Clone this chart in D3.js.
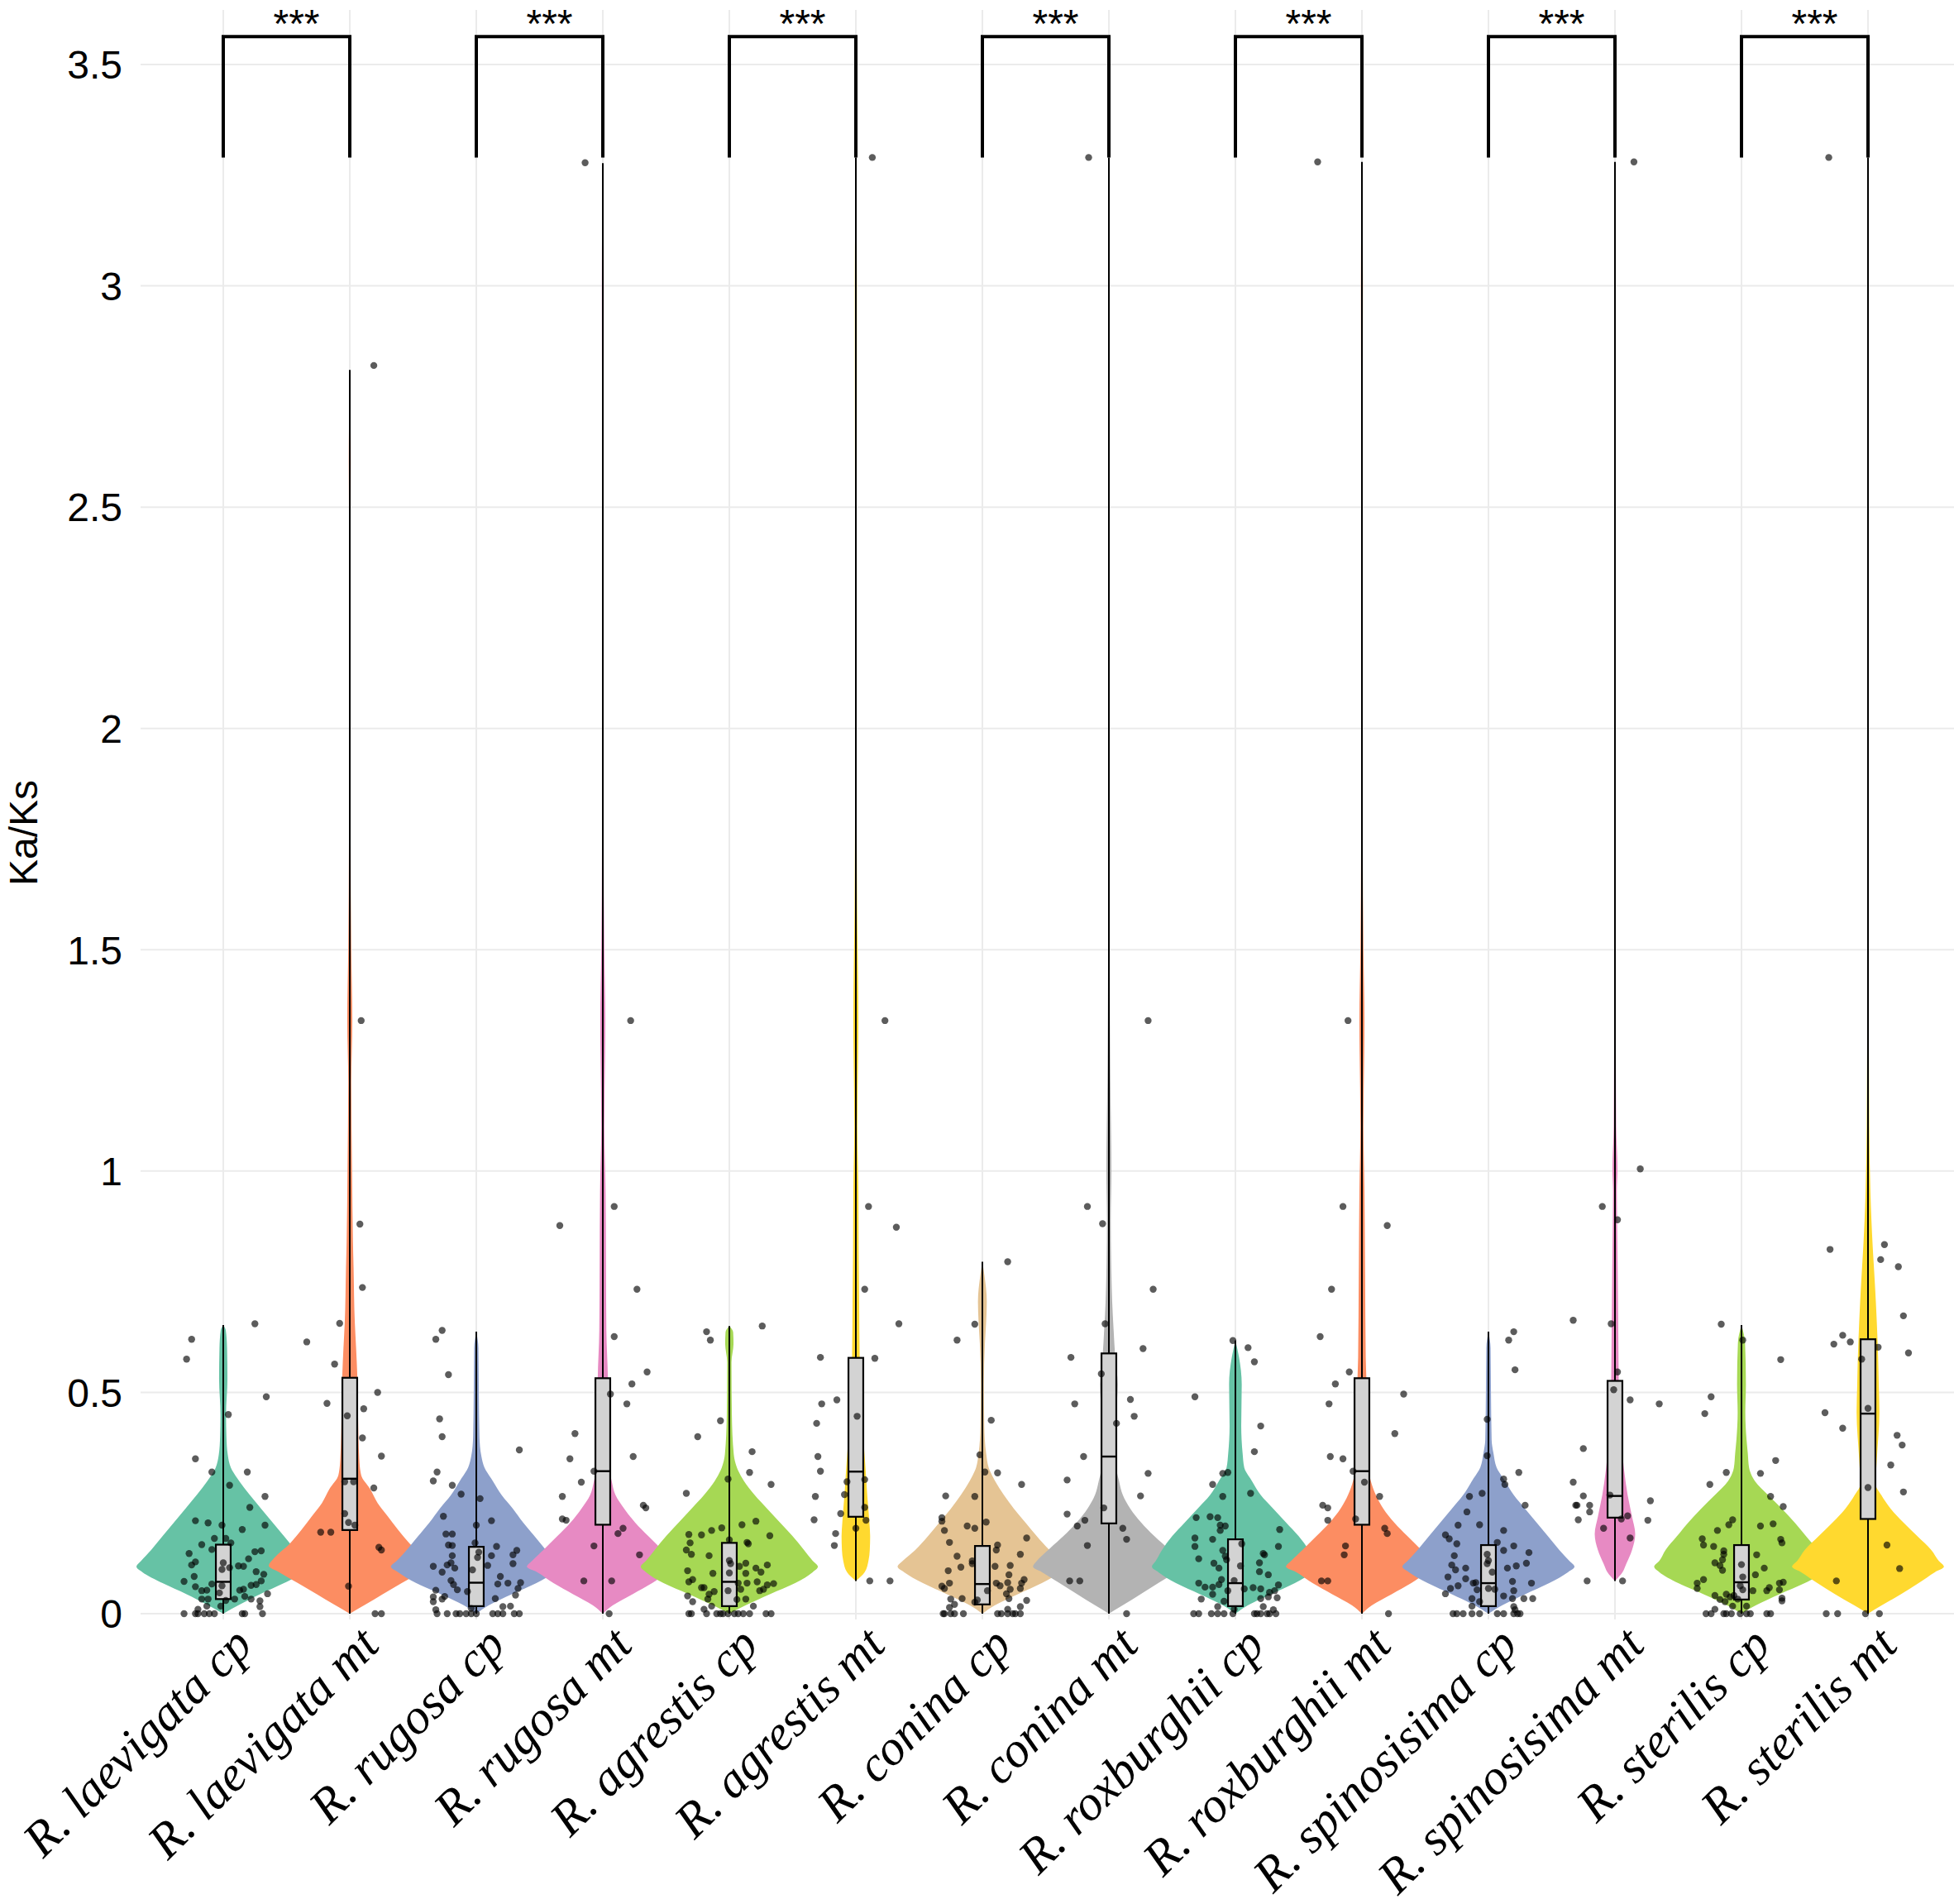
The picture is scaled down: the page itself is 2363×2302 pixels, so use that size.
<!DOCTYPE html>
<html>
<head>
<meta charset="utf-8">
<script src="https://cdn.jsdelivr.net/npm/d3@7"></script>
<style>
  body { margin: 0; background: #fff; }
</style>
</head>
<body>
<svg id="chart" width="2363" height="2302"></svg>
<script>
// categories
const groups = [
  "R. laevigata cp", "R. laevigata mt", "R. rugosa cp", "R. rugosa mt",
  "R. agrestis cp", "R. agrestis mt", "R. conina cp", "R. conina mt",
  "R. roxburghii cp", "R. roxburghii mt", "R. spinosisima cp", "R. spinosisima mt",
  "R. sterilis cp", "R. sterilis mt"
];
const palette = ["#66C2A5", "#FC8D62", "#8DA0CB", "#E78AC3", "#A6D854", "#FFD92F", "#E5C494",
  "#B3B3B3", "#66C2A5", "#FC8D62", "#8DA0CB", "#E78AC3", "#A6D854", "#FFD92F"];

const yTicks = [0, 0.5, 1, 1.5, 2, 2.5, 3, 3.5];

// box stats
const boxQ1  = [0.033, 0.189, 0.017, 0.201, 0.017, 0.219, 0.021, 0.204, 0.017, 0.201, 0.017, 0.217, 0.032, 0.214];
const boxMed = [0.072, 0.305, 0.070, 0.322, 0.072, 0.321, 0.067, 0.355, 0.069, 0.322, 0.069, 0.266, 0.071, 0.452];
const boxQ3  = [0.156, 0.533, 0.151, 0.532, 0.160, 0.578, 0.153, 0.588, 0.168, 0.532, 0.155, 0.526, 0.155, 0.620];
const lineLo = [0, 0, 0, 0, 0, 0.074, 0, 0, 0, 0, 0, 0.074, 0, 0];
const lineHi = [0.652, 2.81, 0.637, 3.277, 0.65, 3.29, 0.795, 3.29, 0.617, 3.28, 0.637, 3.28, 0.652, 3.29];

// significance brackets (cp vs mt)
const sigLabels = ["***", "***", "***", "***", "***", "***", "***"];
const sigTop = 3.563;
const sigTip = 3.29;

// violin outlines: [Ka/Ks, half width in category steps]
const vLaevigataCp = [[0,0],[0.019,0.12],[0.044,0.29],[0.069,0.48],[0.094,0.64],[0.106,0.686],[0.119,0.65],[0.144,0.57],[0.175,0.48],[0.206,0.39],[0.237,0.30],[0.268,0.21],[0.30,0.125],[0.33,0.06],[0.36,0.035],[0.40,0.025],[0.45,0.022],[0.53,0.033],[0.60,0.03],[0.64,0.02],[0.652,0]];
const vLaevigataMt = [[0,0],[0.02,0.12],[0.044,0.26],[0.069,0.41],[0.094,0.56],[0.108,0.64],[0.125,0.60],[0.158,0.475],[0.19,0.38],[0.22,0.30],[0.25,0.22],[0.282,0.16],[0.313,0.09],[0.35,0.075],[0.45,0.065],[0.533,0.06],[0.60,0.05],[0.656,0.04],[0.78,0.03],[0.84,0.025],[1.0,0.018],[1.2,0.012],[1.34,0.02],[1.5,0.012],[1.8,0.006],[2.3,0.004],[2.6,0.008],[2.81,0]];
const vRugosaCp = [[0,0],[0.019,0.10],[0.044,0.28],[0.069,0.475],[0.094,0.62],[0.106,0.675],[0.119,0.63],[0.144,0.55],[0.175,0.46],[0.206,0.37],[0.237,0.29],[0.268,0.20],[0.30,0.13],[0.33,0.065],[0.356,0.04],[0.40,0.025],[0.50,0.02],[0.60,0.017],[0.637,0]];
const vRugosaMt = [[0,0],[0.019,0.08],[0.044,0.235],[0.069,0.39],[0.094,0.52],[0.106,0.60],[0.119,0.56],[0.144,0.47],[0.175,0.36],[0.206,0.255],[0.237,0.17],[0.268,0.10],[0.30,0.07],[0.33,0.05],[0.45,0.042],[0.532,0.04],[0.64,0.028],[0.954,0.022],[1.1,0.012],[1.34,0.02],[1.5,0.012],[1.8,0.006],[2.5,0.004],[3.0,0.008],[3.277,0]];
const vAgrestisCp = [[0,0],[0.019,0.13],[0.044,0.32],[0.069,0.52],[0.094,0.66],[0.106,0.70],[0.119,0.66],[0.144,0.59],[0.175,0.50],[0.206,0.40],[0.237,0.30],[0.268,0.20],[0.30,0.115],[0.33,0.06],[0.36,0.035],[0.45,0.02],[0.568,0.017],[0.61,0.033],[0.636,0.03],[0.65,0]];
const vAgrestisMt = [[0.074,0],[0.094,0.07],[0.12,0.10],[0.144,0.11],[0.175,0.113],[0.206,0.107],[0.268,0.09],[0.33,0.076],[0.393,0.06],[0.455,0.046],[0.518,0.037],[0.58,0.03],[0.705,0.026],[0.83,0.022],[0.954,0.02],[1.1,0.012],[1.34,0.02],[1.6,0.01],[2.0,0.005],[3.0,0.008],[3.29,0]];
const vConinaCp = [[0,0],[0.019,0.10],[0.044,0.28],[0.069,0.47],[0.094,0.62],[0.106,0.67],[0.119,0.63],[0.144,0.53],[0.175,0.43],[0.206,0.34],[0.237,0.25],[0.268,0.17],[0.30,0.10],[0.33,0.05],[0.362,0.03],[0.424,0.015],[0.518,0.012],[0.61,0.02],[0.66,0.03],[0.705,0.035],[0.767,0.015],[0.795,0]];
const vConinaMt = [[0,0],[0.019,0.11],[0.044,0.25],[0.069,0.39],[0.094,0.53],[0.106,0.60],[0.119,0.57],[0.144,0.48],[0.175,0.36],[0.206,0.255],[0.237,0.17],[0.268,0.11],[0.30,0.08],[0.33,0.06],[0.45,0.06],[0.518,0.07],[0.58,0.05],[0.643,0.037],[0.705,0.026],[0.767,0.02],[0.89,0.015],[1.0,0.02],[1.2,0.012],[1.5,0.006],[2.0,0.003],[3.0,0.006],[3.29,0]];
const vRoxburghiiCp = [[0,0],[0.019,0.10],[0.044,0.28],[0.069,0.47],[0.094,0.61],[0.106,0.66],[0.119,0.63],[0.144,0.58],[0.175,0.50],[0.206,0.40],[0.237,0.30],[0.268,0.20],[0.30,0.13],[0.33,0.07],[0.362,0.057],[0.424,0.046],[0.518,0.05],[0.58,0.028],[0.617,0]];
const vRoxburghiiMt = [[0,0],[0.019,0.08],[0.044,0.235],[0.069,0.39],[0.094,0.52],[0.106,0.60],[0.119,0.56],[0.144,0.47],[0.175,0.36],[0.206,0.255],[0.237,0.17],[0.268,0.11],[0.30,0.07],[0.33,0.05],[0.45,0.04],[0.532,0.035],[0.58,0.03],[0.767,0.025],[0.954,0.02],[1.1,0.012],[1.34,0.02],[1.5,0.012],[1.8,0.006],[2.5,0.004],[3.0,0.008],[3.28,0]];
const vSpinosisimaCp = [[0,0],[0.019,0.11],[0.044,0.29],[0.069,0.48],[0.094,0.63],[0.106,0.68],[0.119,0.64],[0.144,0.56],[0.175,0.47],[0.206,0.38],[0.237,0.29],[0.268,0.20],[0.30,0.13],[0.33,0.065],[0.362,0.04],[0.393,0.025],[0.50,0.02],[0.60,0.017],[0.637,0]];
const vSpinosisimaMt = [[0.074,0],[0.094,0.06],[0.113,0.09],[0.144,0.135],[0.18,0.16],[0.219,0.135],[0.268,0.10],[0.33,0.07],[0.393,0.048],[0.455,0.033],[0.518,0.03],[0.642,0.026],[0.767,0.022],[0.89,0.017],[0.954,0.015],[1.005,0.02],[1.1,0.01],[1.5,0.005],[2.0,0.003],[3.0,0.006],[3.28,0]];
const vSterilisCp = [[0,0],[0.019,0.115],[0.044,0.30],[0.069,0.50],[0.094,0.65],[0.106,0.69],[0.119,0.65],[0.144,0.60],[0.175,0.51],[0.206,0.42],[0.237,0.32],[0.268,0.21],[0.30,0.105],[0.33,0.06],[0.362,0.05],[0.393,0.04],[0.455,0.03],[0.518,0.035],[0.612,0.028],[0.652,0]];
const vSterilisMt = [[0,0],[0.019,0.11],[0.044,0.26],[0.069,0.40],[0.094,0.53],[0.106,0.60],[0.119,0.56],[0.144,0.50],[0.175,0.39],[0.206,0.28],[0.237,0.18],[0.268,0.105],[0.293,0.06],[0.35,0.07],[0.455,0.09],[0.518,0.085],[0.58,0.08],[0.642,0.072],[0.705,0.062],[0.767,0.05],[0.83,0.037],[0.89,0.027],[0.954,0.019],[1.1,0.01],[1.5,0.005],[2.0,0.003],[3.0,0.006],[3.29,0]];

// jittered points: [Ka/Ks, jitter in category steps]
const pLaevigataCp = [[0.62,-0.25],[0.575,-0.29],[0.655,0.25],[0.49,0.34],[0.45,0.04],[0.35,-0.22],[0.32,-0.09],[0.32,0.19],[0.29,0.05],[0.265,0.33],[0.24,0.21],[0.21,-0.22],[0.205,-0.12],[0.20,-0.01],[0.20,0.33],[0.19,0.15],[0.17,-0.07],[0.17,0.02],[0.16,0.06],[0.156,-0.17],[0.145,-0.09],[0.142,0.30],[0.14,0.25],[0.136,-0.27],[0.124,0.20],[0.117,-0.22],[0.11,-0.25],[0.115,0.00],[0.104,0.05],[0.10,-0.01],[0.108,0.12],[0.107,0.16],[0.095,0.26],[0.089,0.32],[0.084,-0.23],[0.073,-0.31],[0.067,-0.09],[0.063,-0.01],[0.061,-0.22],[0.064,0.22],[0.066,0.26],[0.074,0.30],[0.052,-0.17],[0.053,-0.13],[0.053,0.13],[0.055,0.16],[0.045,0.35],[0.047,-0.03],[0.033,-0.17],[0.033,-0.12],[0.03,0.02],[0.033,0.09],[0.039,0.17],[0.033,0.22],[0.029,0.29],[0.016,0.29],[0.017,-0.02],[0.01,-0.20],[0.017,-0.13],[0,-0.31],[0,-0.22],[0,-0.20],[0,-0.15],[0,-0.11],[0,-0.07],[0,0.15],[0,0.17],[0,0.31]];
const pLaevigataMt = [[2.82,0.19],[1.34,0.09],[0.88,0.08],[0.737,0.10],[0.656,-0.08],[0.614,-0.34],[0.564,-0.12],[0.50,0.22],[0.475,-0.18],[0.463,0.11],[0.447,-0.02],[0.397,0.10],[0.356,0.25],[0.284,0.19],[0.298,0.03],[0.298,-0.04],[0.226,-0.04],[0.206,-0.01],[0.20,0.04],[0.184,-0.23],[0.184,-0.15],[0.15,0.23],[0.144,0.25],[0.062,-0.01],[0,0.20],[0,0.25]];
const pRugosaCp = [[0.64,-0.27],[0.62,-0.32],[0.54,-0.22],[0.44,-0.29],[0.40,-0.27],[0.37,0.34],[0.32,-0.31],[0.30,-0.34],[0.29,-0.19],[0.27,-0.12],[0.26,0.03],[0.22,-0.26],[0.20,0.00],[0.21,0.12],[0.18,-0.24],[0.18,-0.19],[0.16,-0.01],[0.155,-0.22],[0.154,-0.19],[0.152,0.16],[0.143,0.32],[0.133,0.29],[0.131,-0.19],[0.131,0.12],[0.139,0.02],[0.127,0.01],[0.107,-0.34],[0.11,-0.23],[0.115,-0.20],[0.103,-0.17],[0.109,0.09],[0.113,0.29],[0.094,-0.27],[0.099,-0.03],[0.084,0.19],[0.075,-0.20],[0.066,-0.18],[0.054,-0.15],[0.05,-0.07],[0.067,0.17],[0.069,0.25],[0.07,0.35],[0.057,0.33],[0.042,0.31],[0.053,-0.32],[0.038,-0.34],[0.039,-0.25],[0.033,-0.27],[0.034,0.15],[0.027,-0.34],[0.009,-0.32],[0.016,0.21],[0.017,0.27],[0.012,-0.04],[0,-0.31],[0,-0.23],[0,-0.16],[0,-0.13],[0,-0.08],[0,-0.04],[0,0.00],[0,0.13],[0,0.17],[0,0.21],[0,0.30],[0,0.34]];
const pRugosaMt = [[3.278,-0.14],[1.34,0.22],[0.92,0.09],[0.877,-0.34],[0.733,0.27],[0.626,0.09],[0.546,0.35],[0.519,0.23],[0.496,0.06],[0.474,0.19],[0.407,-0.22],[0.355,0.24],[0.35,-0.26],[0.322,-0.07],[0.297,-0.17],[0.265,-0.32],[0.245,0.32],[0.239,0.34],[0.214,-0.32],[0.211,-0.29],[0.193,0.16],[0.181,0.12],[0.153,-0.07],[0.133,0.29],[0.074,-0.15],[0.074,0.07],[0,0.05]];
const pAgrestisCp = [[0.637,-0.18],[0.618,-0.15],[0.65,0.26],[0.436,-0.07],[0.40,-0.25],[0.366,0.18],[0.319,0.16],[0.292,0.33],[0.272,-0.34],[0.304,-0.01],[0.209,0.21],[0.201,0.10],[0.194,-0.06],[0.188,-0.14],[0.178,-0.22],[0.179,-0.32],[0.176,0.32],[0.167,0.00],[0.16,-0.31],[0.161,0.14],[0.158,0.15],[0.144,-0.34],[0.134,-0.30],[0.131,-0.16],[0.12,0.00],[0.113,0.01],[0.114,0.13],[0.107,0.08],[0.103,0.21],[0.11,0.30],[0.094,0.25],[0.091,0.13],[0.097,-0.33],[0.091,-0.13],[0.092,0.00],[0.072,-0.32],[0.077,-0.29],[0.069,0.07],[0.069,0.14],[0.072,0.22],[0.065,0.30],[0.068,0.35],[0.059,-0.22],[0.059,-0.20],[0.05,-0.12],[0.055,0.09],[0.052,0.24],[0.055,0.27],[0.052,-0.01],[0.04,-0.33],[0.044,-0.16],[0.033,-0.17],[0.032,0.06],[0.033,0.13],[0.027,-0.29],[0.01,-0.20],[0.017,-0.14],[0.017,0.19],[0,-0.32],[0,-0.30],[0,-0.18],[0,-0.10],[0,-0.07],[0,-0.05],[0,-0.01],[0,0.04],[0,0.07],[0,0.11],[0,0.16],[0,0.29],[0,0.33]];
const pAgrestisMt = [[3.29,0.13],[1.34,0.23],[0.92,0.10],[0.873,0.32],[0.733,0.07],[0.655,0.34],[0.579,-0.28],[0.577,0.15],[0.483,-0.15],[0.474,-0.27],[0.446,0.01],[0.43,-0.31],[0.355,-0.30],[0.322,-0.28],[0.298,-0.07],[0.303,0.07],[0.265,-0.32],[0.269,-0.09],[0.24,0.07],[0.226,-0.12],[0.211,0.08],[0.212,-0.33],[0.193,0.00],[0.181,-0.16],[0.154,-0.17],[0.074,0.11],[0.074,0.27]];
const pConinaCp = [[0.795,0.20],[0.654,-0.06],[0.618,-0.20],[0.437,0.07],[0.359,-0.02],[0.32,0.02],[0.318,0.12],[0.292,0.31],[0.266,-0.29],[0.265,-0.06],[0.217,-0.32],[0.209,-0.32],[0.207,0.03],[0.188,-0.30],[0.198,-0.12],[0.193,-0.06],[0.171,0.35],[0.161,-0.26],[0.155,0.12],[0.144,0.11],[0.134,0.30],[0.13,-0.20],[0.119,-0.08],[0.113,-0.08],[0.105,-0.17],[0.107,0.10],[0.109,0.22],[0.097,-0.27],[0.088,0.21],[0.077,0.33],[0.069,0.31],[0.069,0.11],[0.07,0.20],[0.063,0.14],[0.069,-0.26],[0.057,-0.30],[0.062,-0.32],[0.055,0.22],[0.057,0.30],[0.052,0.04],[0.045,0.19],[0.034,-0.16],[0.033,-0.25],[0.034,0.21],[0.03,0.35],[0.021,-0.22],[0.014,-0.26],[0.026,-0.06],[0.031,-0.04],[0.016,0.30],[0.01,0.20],[0,-0.31],[0,-0.30],[0,-0.25],[0,-0.22],[0,-0.15],[0,0.12],[0,0.15],[0,0.20],[0,0.24],[0,0.26],[0,0.30]];
const pConinaMt = [[3.29,-0.16],[1.34,0.31],[0.92,-0.17],[0.881,-0.05],[0.733,0.35],[0.655,-0.03],[0.599,0.27],[0.579,-0.30],[0.542,-0.06],[0.484,0.17],[0.474,-0.27],[0.446,0.20],[0.43,0.06],[0.355,-0.20],[0.317,0.31],[0.302,-0.33],[0.266,0.25],[0.239,-0.04],[0.225,-0.33],[0.211,-0.19],[0.198,-0.25],[0.193,0.11],[0.168,0.14],[0.154,-0.17],[0.074,-0.31],[0.074,-0.23],[0,0.14]];
const pRoxburghiiCp = [[0.617,-0.02],[0.601,0.10],[0.569,0.15],[0.49,-0.32],[0.424,0.20],[0.366,0.15],[0.319,-0.06],[0.317,-0.10],[0.292,-0.18],[0.272,0.12],[0.265,-0.10],[0.217,-0.31],[0.219,-0.20],[0.217,-0.14],[0.20,-0.12],[0.188,-0.12],[0.198,-0.08],[0.19,0.35],[0.171,-0.32],[0.168,-0.18],[0.152,-0.32],[0.158,0.05],[0.152,0.34],[0.143,-0.10],[0.13,-0.08],[0.122,-0.07],[0.124,-0.29],[0.136,0.22],[0.133,0.23],[0.114,-0.17],[0.103,-0.13],[0.108,0.04],[0.115,0.19],[0.095,0.19],[0.088,0.26],[0.077,-0.11],[0.075,-0.01],[0.069,-0.29],[0.06,-0.24],[0.06,-0.18],[0.066,-0.13],[0.052,-0.06],[0.056,0.07],[0.059,0.14],[0.056,0.20],[0.048,0.27],[0.052,0.31],[0.065,0.34],[0.044,-0.18],[0.033,-0.27],[0.028,-0.09],[0.034,0.20],[0.038,0.26],[0.036,0.33],[0.016,0.22],[0.009,0.30],[0.016,-0.14],[0.01,-0.01],[0,-0.33],[0,-0.29],[0,-0.19],[0,-0.14],[0,-0.09],[0,-0.02],[0,0.15],[0,0.17],[0,0.20],[0,0.25],[0,0.27],[0,0.32]];
const pRoxburghiiMt = [[3.28,-0.35],[1.34,-0.11],[0.92,-0.15],[0.877,0.20],[0.733,-0.24],[0.626,-0.33],[0.546,-0.10],[0.519,-0.21],[0.496,0.33],[0.474,-0.26],[0.407,0.26],[0.355,-0.25],[0.35,-0.15],[0.322,-0.07],[0.297,0.02],[0.265,0.14],[0.245,-0.31],[0.239,-0.27],[0.211,-0.27],[0.214,-0.05],[0.193,0.18],[0.181,0.20],[0.153,-0.13],[0.133,-0.14],[0.074,-0.32],[0.074,-0.27],[0,0.21]];
const pSpinosisimaCp = [[0.637,0.20],[0.618,0.16],[0.551,0.21],[0.439,-0.01],[0.357,-0.01],[0.319,0.24],[0.304,0.12],[0.292,0.13],[0.272,-0.05],[0.265,-0.15],[0.245,0.29],[0.23,-0.17],[0.20,-0.24],[0.201,-0.07],[0.188,0.12],[0.178,-0.34],[0.169,-0.31],[0.158,-0.25],[0.161,0.07],[0.143,0.12],[0.153,0.20],[0.138,0.32],[0.131,-0.27],[0.134,-0.01],[0.12,0.00],[0.114,0.30],[0.11,-0.29],[0.099,-0.26],[0.103,-0.18],[0.094,0.03],[0.103,0.15],[0.108,0.22],[0.113,-0.01],[0.083,-0.32],[0.079,-0.18],[0.069,-0.12],[0.07,-0.10],[0.073,0.19],[0.069,0.34],[0.057,-0.30],[0.063,-0.24],[0.054,-0.09],[0.057,0.00],[0.055,0.05],[0.052,0.20],[0.045,-0.34],[0.04,0.12],[0.034,0.19],[0.034,0.28],[0.034,0.35],[0.034,-0.13],[0.027,-0.07],[0.017,-0.13],[0.016,0.20],[0.009,0.21],[0,-0.28],[0,-0.25],[0,-0.20],[0,-0.13],[0,-0.07],[0,0.07],[0,0.12],[0,0.20],[0,0.23],[0,0.25]];
const pSpinosisimaMt = [[3.28,0.15],[1.005,0.20],[0.92,-0.10],[0.89,0.02],[0.663,-0.33],[0.655,-0.03],[0.546,0.02],[0.506,-0.01],[0.483,0.12],[0.474,0.35],[0.373,-0.25],[0.297,-0.33],[0.266,-0.25],[0.245,-0.31],[0.245,-0.30],[0.245,-0.20],[0.23,-0.20],[0.255,0.28],[0.268,-0.04],[0.212,-0.29],[0.214,0.05],[0.221,0.10],[0.211,0.26],[0.193,-0.09],[0.171,0.12],[0.074,-0.22],[0.074,0.06]];
const pSterilisCp = [[0.654,-0.16],[0.618,0.01],[0.574,0.31],[0.49,-0.24],[0.452,-0.29],[0.346,0.27],[0.319,-0.12],[0.317,0.15],[0.292,-0.25],[0.265,0.23],[0.242,0.33],[0.212,-0.07],[0.201,-0.10],[0.198,0.15],[0.203,0.25],[0.188,-0.19],[0.169,-0.31],[0.155,-0.30],[0.152,-0.22],[0.168,0.31],[0.16,0.32],[0.142,-0.14],[0.134,-0.14],[0.133,0.12],[0.122,-0.15],[0.115,-0.21],[0.109,-0.17],[0.098,-0.15],[0.111,0.00],[0.103,0.18],[0.088,0.11],[0.083,0.01],[0.077,-0.30],[0.069,-0.35],[0.057,-0.35],[0.063,-0.01],[0.054,0.01],[0.052,0.09],[0.052,0.20],[0.059,0.22],[0.069,0.30],[0.071,0.33],[0.054,0.30],[0.041,-0.21],[0.032,-0.17],[0.044,-0.12],[0.038,-0.09],[0.041,-0.06],[0.033,-0.03],[0.027,-0.13],[0.017,-0.07],[0.017,0.04],[0.029,0.32],[0.035,0.32],[0.01,-0.21],[0,-0.28],[0,-0.24],[0,-0.14],[0,-0.12],[0,-0.08],[0,-0.01],[0,0.04],[0,0.07],[0,0.20],[0,0.23]];
const pSterilisMt = [[3.29,-0.31],[0.823,-0.30],[0.834,0.13],[0.80,0.10],[0.784,0.24],[0.673,0.28],[0.609,-0.27],[0.629,-0.20],[0.614,-0.14],[0.602,0.08],[0.589,0.32],[0.575,-0.05],[0.464,0.00],[0.454,-0.34],[0.419,-0.20],[0.403,0.23],[0.381,0.27],[0.336,0.18],[0.285,0.00],[0.275,0.28],[0.155,0.15],[0.102,0.25],[0.074,-0.25],[0,-0.33],[0,-0.24],[0,-0.02],[0,0.09]];

const violins = [vLaevigataCp, vLaevigataMt, vRugosaCp, vRugosaMt, vAgrestisCp, vAgrestisMt, vConinaCp,
  vConinaMt, vRoxburghiiCp, vRoxburghiiMt, vSpinosisimaCp, vSpinosisimaMt, vSterilisCp, vSterilisMt];
const points = [pLaevigataCp, pLaevigataMt, pRugosaCp, pRugosaMt, pAgrestisCp, pAgrestisMt, pConinaCp,
  pConinaMt, pRoxburghiiCp, pRoxburghiiMt, pSpinosisimaCp, pSpinosisimaMt, pSterilisCp, pSterilisMt];

const svg = d3.select("#chart");
const panel = { left: 170, right: 2363, top: 12, bottom: 1958 };

const x = d3.scalePoint().domain(groups).range([270, 2259]);
const step = x.step();
const y = d3.scaleLinear().domain([0, 3.5]).range([1951, 78]);

// grid
const grid = svg.append("g");
grid.selectAll("line.h")
  .data(yTicks)
  .enter()
  .append("line")
  .attr("x1", panel.left).attr("x2", panel.right)
  .attr("y1", d => y(d)).attr("y2", d => y(d))
  .attr("stroke", "#ebebeb").attr("stroke-width", 2);
grid.selectAll("line.v")
  .data(groups)
  .enter()
  .append("line")
  .attr("x1", d => x(d)).attr("x2", d => x(d))
  .attr("y1", panel.top).attr("y2", panel.bottom)
  .attr("stroke", "#ebebeb").attr("stroke-width", 2);

// violins
groups.forEach(function(g, i) {
  const cx = x(g);
  const prof = violins[i].slice().sort((a, b) => b[0] - a[0]);
  const area = d3.area()
    .curve(d3.curveMonotoneY)
    .y(d => y(d[0]))
    .x0(d => cx - d[1] * step)
    .x1(d => cx + d[1] * step);
  svg.append("path")
    .attr("d", area(prof))
    .attr("fill", palette[i]);
});

// box plots (line covers full range)
const boxW = 0.117 * step;
const boxes = svg.append("g");
groups.forEach(function(g, i) {
  const cx = x(g);
  boxes.append("line")
    .attr("x1", cx).attr("x2", cx)
    .attr("y1", y(lineLo[i])).attr("y2", y(lineHi[i]))
    .attr("stroke", "#000").attr("stroke-width", 2);
  boxes.append("rect")
    .attr("x", cx - boxW / 2)
    .attr("y", y(boxQ3[i]))
    .attr("width", boxW)
    .attr("height", y(boxQ1[i]) - y(boxQ3[i]))
    .attr("fill", "#d3d3d3")
    .attr("stroke", "#000").attr("stroke-width", 2.2);
  boxes.append("line")
    .attr("x1", cx - boxW / 2).attr("x2", cx + boxW / 2)
    .attr("y1", y(boxMed[i])).attr("y2", y(boxMed[i]))
    .attr("stroke", "#000").attr("stroke-width", 2.4);
});

// jittered points
const dots = svg.append("g");
groups.forEach(function(g, i) {
  dots.selectAll(null)
    .data(points[i])
    .enter()
    .append("circle")
    .attr("cx", d => x(g) + d[1] * step)
    .attr("cy", d => y(d[0]))
    .attr("r", 4.2)
    .attr("fill", "#000")
    .attr("fill-opacity", 0.64);
});

// significance brackets
const sig = svg.append("g");
sigLabels.forEach(function(lab, k) {
  const x1 = x(groups[2 * k]), x2 = x(groups[2 * k + 1]);
  sig.append("path")
    .attr("d", "M" + x1 + "," + y(sigTip) + "V" + y(sigTop) + "H" + x2 + "V" + y(sigTip))
    .attr("fill", "none")
    .attr("stroke", "#000")
    .attr("stroke-width", 4);
  sig.append("text")
    .attr("x", (x1 + x2) / 2 + 12)
    .attr("y", y(sigTop) + 1)
    .attr("text-anchor", "middle")
    .style("font-family", "'Liberation Sans', Arial, sans-serif")
    .style("font-size", "48px")
    .text(lab);
});

// y axis tick labels
svg.append("g").selectAll("text")
  .data(yTicks)
  .enter()
  .append("text")
  .attr("x", 148)
  .attr("y", d => y(d))
  .attr("dy", "0.36em")
  .attr("text-anchor", "end")
  .style("font-family", "'Liberation Sans', Arial, sans-serif")
  .style("font-size", "48px")
  .text(d => String(d));

// y axis title
svg.append("text")
  .attr("transform", "translate(45,1007) rotate(-90)")
  .attr("text-anchor", "middle")
  .style("font-family", "'Liberation Sans', Arial, sans-serif")
  .style("font-size", "48px")
  .text("Ka/Ks");

// x axis labels, rotated 45 degrees
svg.append("g").selectAll("text")
  .data(groups)
  .enter()
  .append("text")
  .attr("transform", d => "translate(" + (x(d) + 10) + ",1964) rotate(-45)")
  .attr("dy", "0.66em")
  .attr("text-anchor", "end")
  .style("font-family", "'Liberation Serif', 'Times New Roman', serif")
  .style("font-style", "italic")
  .style("font-size", "60px")
  .text(d => d);
</script>
</body>
</html>
